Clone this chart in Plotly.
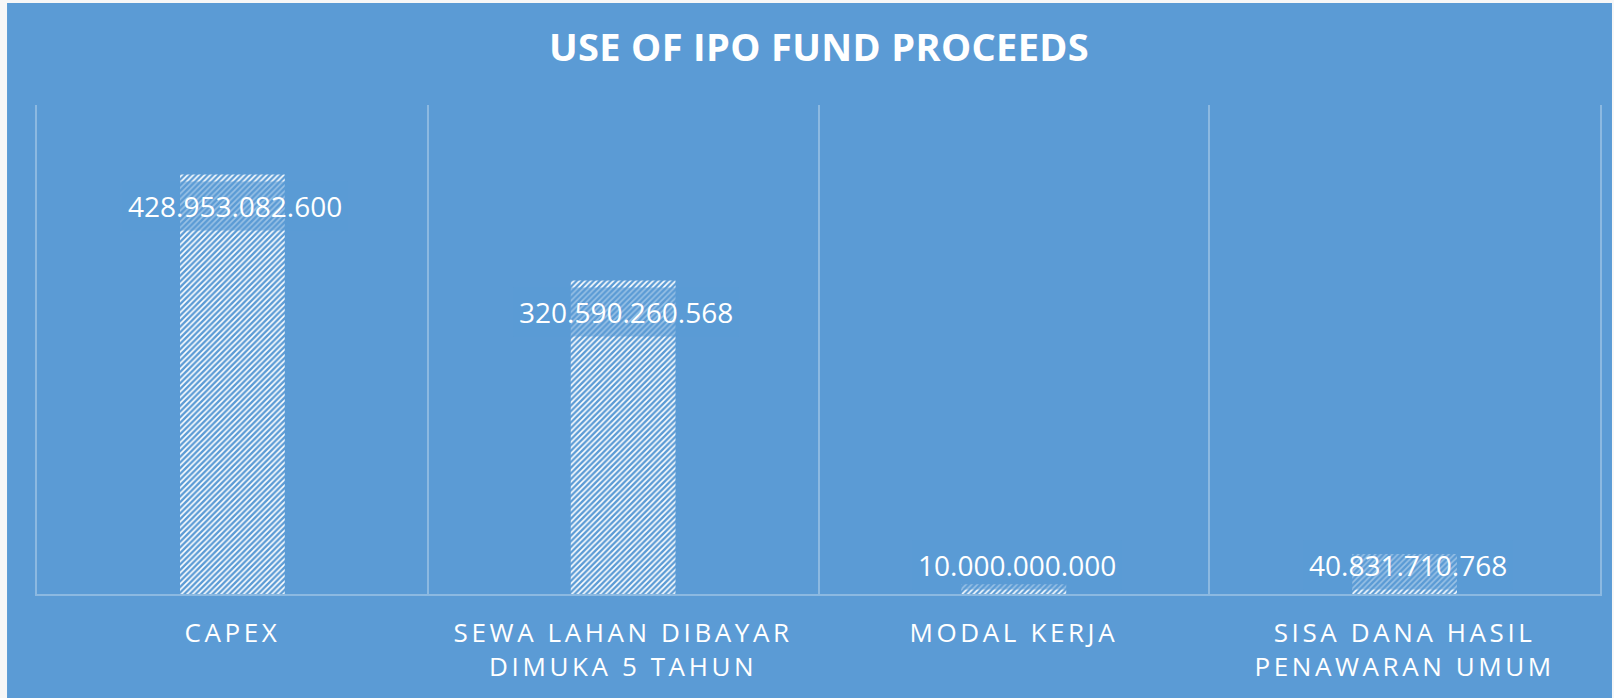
import plotly.graph_objects as go

categories = ["CAPEX", "SEWA LAHAN DIBAYAR<br>DIMUKA 5 TAHUN", "MODAL KERJA",
              "SISA DANA HASIL<br>PENAWARAN UMUM"]
values = [428953082600, 320590260568, 10000000000, 40831710768]
label_texts = ["428.953.082.600", "320.590.260.568", "10.000.000.000", "40.831.710.768"]
title_text = "USE OF IPO FUND PROCEEDS"

W, H = 1614, 698
ML, MR, MT, MB = 37, 12, 105, 104
PW, PH = W - ML - MR, H - MT - MB
YMAX = 5e11
BG = "#5B9BD5"
LINE = "#8CB9E1"

fig = go.Figure()
fig.add_trace(go.Bar(
    x=categories, y=values,
    marker=dict(color=BG, line=dict(width=0),
                pattern=dict(shape="/", fgcolor="white", bgcolor=BG,
                             size=4, solidity=0.4, fillmode="replace")),
    hoverinfo="skip",
))

units_per_px = YMAX / PH
for c, v, t in zip(categories, values, label_texts):
    y_lab = max(v - 32 * units_per_px, 30e9)
    fig.add_annotation(x=c, y=y_lab, xref="x", yref="y", text=t, showarrow=False,
                       yanchor="middle", xanchor="center", xshift=3,
                       font=dict(family="Open Sans", size=28, color="white"),
                       bgcolor="rgba(91,155,213,0.62)", borderpad=5)

# chart-area background (white strip at left/top edge)
fig.add_shape(type="rect", xref="paper", yref="paper",
              x0=(7 - ML) / PW, x1=(W - ML) / PW,
              y0=-(MB) / PH, y1=(H - MB - 3) / PH,
              fillcolor=BG, line=dict(width=0), layer="below")

fig.update_layout(
    width=W, height=H,
    margin=dict(l=ML, r=MR, t=MT, b=MB),
    paper_bgcolor="#F7F7F7", plot_bgcolor=BG,
    bargap=0.732, showlegend=False,
    title=dict(text=f"<b>{title_text}</b>", x=(820 - ML) / PW, xref="paper",
               xanchor="center", y=1 - 48 / H, yref="container", yanchor="middle",
               font=dict(family="Open Sans", size=38, color="white")),
    xaxis=dict(type="category", categoryorder="array", categoryarray=categories,
               range=[-0.5, len(categories) - 0.5], tickson="boundaries",
               showgrid=True, gridcolor=LINE, gridwidth=1.5,
               showline=True, linecolor=LINE, linewidth=1.5, ticks="",
               ticklabelstandoff=15,
               tickfont=dict(family="Open Sans", size=26, color="white")),
    yaxis=dict(range=[0, YMAX], showgrid=False, zeroline=False,
               showticklabels=False, showline=True, mirror=True,
               linecolor=LINE, linewidth=1.5),
)

post = """
document.querySelectorAll('.xtick text').forEach(function(t){t.style.letterSpacing='3.6px';});
document.querySelectorAll('.gtitle').forEach(function(t){t.style.letterSpacing='0.35px';});
"""
fig.write_html("out.html", post_script=post)
